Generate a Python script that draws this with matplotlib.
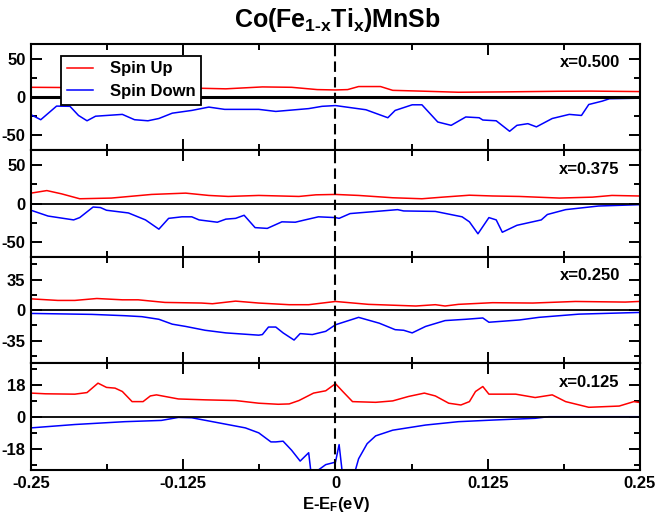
import matplotlib
matplotlib.use("Agg")
import matplotlib.pyplot as plt
from matplotlib.ticker import MultipleLocator

# --- fonts: Helvetica-like bold everywhere, also inside mathtext ---
plt.rcParams['font.family'] = ['Liberation Sans', 'DejaVu Sans']
plt.rcParams['font.weight'] = 'bold'
plt.rcParams['axes.unicode_minus'] = False
plt.rcParams['mathtext.fontset'] = 'custom'
plt.rcParams['mathtext.rm'] = 'Liberation Sans:bold'
plt.rcParams['mathtext.it'] = 'Liberation Sans:bold'
plt.rcParams['mathtext.bf'] = 'Liberation Sans:bold'

# --- data (energy in eV, DOS in states/eV) ---
e_up_500 = [-0.250, -0.200, -0.150, -0.118, -0.090, -0.060, -0.036, -0.015, 0.000, 0.010,
            0.019, 0.037, 0.047, 0.070, 0.101, 0.140, 0.183, 0.210, 0.249]
up_500 = [13, 12.5, 12, 12, 11, 13.5, 13, 10, 9.5, 10, 14, 14, 9, 8, 6.5, 7, 7.8, 8, 7.4]
e_dn_500 = [-0.250, -0.242, -0.229, -0.218, -0.211, -0.204, -0.197, -0.175, -0.165, -0.154,
            -0.145, -0.134, -0.118, -0.104, -0.091, -0.063, -0.049, -0.022, -0.011, 0.000,
            0.025, 0.043, 0.049, 0.063, 0.071, 0.084, 0.095, 0.107, 0.118, 0.121,
            0.132, 0.143, 0.149, 0.158, 0.165, 0.178, 0.192, 0.202, 0.208, 0.219,
            0.225, 0.249]
dn_500 = [-23, -29.6, -11.7, -12, -24, -31, -25, -22.6, -29.6, -31,
          -28, -21, -17.4, -13, -16, -16, -18.7, -15, -12, -11,
          -16.5, -27, -17.4, -10, -10, -32.6, -37, -26, -27, -30,
          -31, -44.8, -37, -34.8, -39, -28, -22.6, -24, -9.6, -5.2,
          -2, -1.3]

e_up_375 = [-0.250, -0.237, -0.225, -0.210, -0.184, -0.151, -0.123, -0.104, -0.088, -0.063,
            -0.030, -0.016, 0.000, 0.019, 0.047, 0.071, 0.088, 0.110, 0.129, 0.151,
            0.184, 0.211, 0.227, 0.249]
up_375 = [13.7, 17, 12.8, 6.4, 7.3, 12, 13.7, 10.7, 9.4, 10.7,
          9.4, 11.5, 12, 10.7, 7.7, 6.4, 8.5, 11, 10, 9.4,
          7.3, 8.5, 10.7, 10]
e_dn_375 = [-0.250, -0.236, -0.215, -0.210, -0.199, -0.193, -0.188, -0.170, -0.156, -0.145,
            -0.137, -0.126, -0.118, -0.112, -0.097, -0.090, -0.082, -0.075, -0.066, -0.056,
            -0.044, -0.033, -0.025, -0.014, 0.000, 0.003, 0.012, 0.051, 0.056, 0.082,
            0.104, 0.110, 0.117, 0.126, 0.132, 0.137, 0.149, 0.169, 0.174, 0.189,
            0.216, 0.249]
dn_375 = [-8.5, -16, -21, -18, -4.3, -5, -8.5, -12, -21, -33,
          -19, -17, -17, -21, -24, -20, -19, -15, -31, -32,
          -23.5, -24, -21, -17, -18, -19, -12.8, -7.7, -9.4, -10,
          -17, -23.5, -39, -18, -21, -37, -28, -21, -14, -7.7,
          -3, -1.3]

e_up_250 = [-0.250, -0.228, -0.214, -0.196, -0.175, -0.162, -0.140, -0.110, -0.101, -0.082,
            -0.063, -0.038, -0.022, 0.000, 0.027, 0.066, 0.082, 0.090, 0.101, 0.129,
            0.162, 0.197, 0.238, 0.249]
up_250 = [13, 11.2, 11.2, 13.4, 11.9, 11.9, 8.9, 8.2, 7.4, 10.4,
          8.2, 6.3, 6.3, 10, 6.7, 4.8, 6.3, 4.8, 6.7, 8.6,
          8.2, 10, 9.3, 10]
e_dn_250 = [-0.250, -0.200, -0.173, -0.159, -0.145, -0.134, -0.123, -0.107, -0.090, -0.063,
            -0.060, -0.055, -0.049, -0.043, -0.034, -0.029, -0.019, -0.008, 0.000, 0.019,
            0.036, 0.049, 0.056, 0.063, 0.074, 0.090, 0.107, 0.121, 0.126, 0.151,
            0.167, 0.200, 0.249]
dn_250 = [-3.7, -4.8, -6.3, -7.4, -10.4, -16, -18.6, -23, -26, -28.6,
          -27.9, -19.3, -19.3, -26, -34.2, -26.8, -27.9, -24.2, -16.7, -8.2,
          -14.9, -22.3, -23, -26, -18.6, -11.9, -10.4, -8.9, -13.8, -11.2,
          -8.2, -4.5, -2.6]

e_up_125 = [-0.250, -0.238, -0.214, -0.204, -0.195, -0.188, -0.181, -0.175, -0.167, -0.158,
            -0.152, -0.147, -0.129, -0.107, -0.082, -0.063, -0.047, -0.038, -0.030, -0.018,
            -0.008, 0.000, 0.006, 0.014, 0.033, 0.047, 0.060, 0.073, 0.082, 0.093,
            0.103, 0.110, 0.115, 0.121, 0.126, 0.148, 0.164, 0.178, 0.189, 0.208,
            0.233, 0.245, 0.250]
up_125 = [13.3, 12.9, 12.7, 13.6, 18.9, 16.5, 16.1, 14.2, 8.5, 8.5,
          11.7, 12.3, 10, 9.5, 9.1, 7.6, 7, 7.2, 9.1, 13.3,
          14.6, 18.6, 14.2, 8.5, 8.1, 8.9, 11.4, 13.3, 11.7, 7.6,
          6.6, 8.5, 14.2, 17, 12.7, 12.7, 10.8, 12.3, 8.5, 5.3,
          6, 8.5, 8]
e_dn_125 = [-0.250, -0.214, -0.173, -0.143, -0.129, -0.118, -0.101, -0.074, -0.063, -0.053,
            -0.049, -0.043, -0.036, -0.029, -0.022, -0.019, -0.016, -0.008, 0.000, 0.003,
            0.007, 0.010, 0.016, 0.019, 0.026, 0.033, 0.047, 0.074, 0.101, 0.129,
            0.164, 0.175, 0.250]
dn_125 = [-6.3, -4.4, -2.8, -2.1, -0.4, -0.6, -2.8, -6.3, -9.1, -14.2,
          -14.2, -13.8, -18.9, -25, -20.3, -38, -31, -27, -25.6, -15.7,
          -40, -50, -31, -23.7, -15.2, -10.8, -7.6, -4.7, -2.8, -1.9,
          -0.9, 0, 0]

labels = ["x=0.500", "x=0.375", "x=0.250", "x=0.125"]
ups = [(e_up_500, up_500), (e_up_375, up_375), (e_up_250, up_250), (e_up_125, up_125)]
downs = [(e_dn_500, dn_500), (e_dn_375, dn_375), (e_dn_250, dn_250), (e_dn_125, dn_125)]
ylims = [70, 69, 61, 30]
ymajor = [50, 50, 35, 18]
zero_lw = [2.2, 1.3, 1.3, 1.3]
xticks = [-0.25, -0.125, 0, 0.125, 0.25]
xticklabels = ['-0.25', '-0.125', '0', '0.125', '0.25']

fig, axes = plt.subplots(4, 1, figsize=(6.57, 5.17), dpi=100, sharex=True)
fig.subplots_adjust(left=0.0472, right=0.974, top=0.915, bottom=0.091, hspace=0)

for i, ax in enumerate(axes):
    eu, vu = ups[i]
    ed, vd = downs[i]
    ax.plot(eu, vu, color='#ff0000', lw=1.1, label='Spin Up', zorder=2)
    ax.plot(ed, vd, color='#0000ff', lw=1.1, label='Spin Down', zorder=2)
    ax.axhline(0, color='black', lw=zero_lw[i], zorder=3)
    ax.axvline(0, color='black', lw=1.5, linestyle=(0, (5, 2.5)), zorder=3)

    ax.set_xlim(-0.25, 0.25)
    ax.set_ylim(-ylims[i], ylims[i])
    ax.yaxis.set_major_locator(MultipleLocator(ymajor[i]))
    ax.yaxis.set_minor_locator(MultipleLocator(ymajor[i] / 2))
    ax.set_xticks(xticks)
    ax.xaxis.set_minor_locator(MultipleLocator(0.0625))
    ax.tick_params(which='both', direction='in', top=True, right=True, width=1.4,
                   labelsize=12, pad=4)
    ax.tick_params(which='major', length=8)
    ax.tick_params(which='minor', length=4)
    for sp in ax.spines.values():
        sp.set_linewidth(1.5)

    ax.text(0.967, 0.78, labels[i], transform=ax.transAxes, ha='right', va='baseline',
            fontsize=12, fontweight='bold')

    if i == 0:
        leg = ax.legend(loc='upper left', bbox_to_anchor=(0.049, 0.89), borderaxespad=0,
                        fancybox=False, framealpha=1, edgecolor='black', fontsize=12,
                        handlelength=1.6, handletextpad=1.0, borderpad=0.35,
                        labelspacing=0.45)
        leg.get_frame().set_linewidth(1.3)
        leg.set_zorder(5)

axes[-1].set_xticks(xticks, xticklabels)
axes[-1].set_xlabel(r'$E\text{-}E_F\mathrm{(eV)}$', fontsize=12, labelpad=3)

fig.text(0.514, 0.948, r'$Co(Fe_{1\text{-}x}Ti_x)MnSb$', ha='center', va='baseline',
         fontsize=18)

fig.savefig('out.png', dpi=100)
